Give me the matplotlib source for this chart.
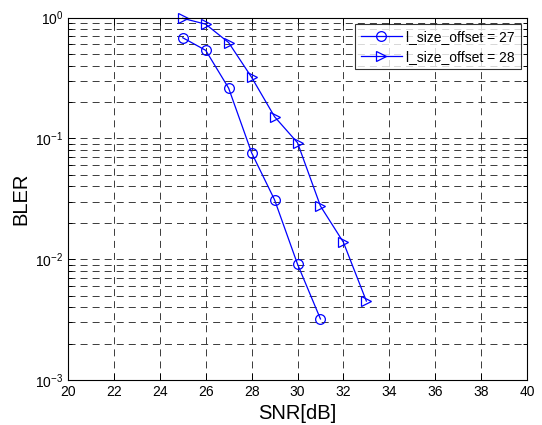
import matplotlib
matplotlib.use("Agg")
import matplotlib.pyplot as plt
from matplotlib.ticker import LogLocator, FixedLocator, NullFormatter

plt.rcParams['font.family'] = ['Liberation Sans', 'DejaVu Sans']
plt.rcParams['mathtext.fontset'] = 'custom'
plt.rcParams['mathtext.rm'] = 'Liberation Sans'

# BLER vs SNR for two size offsets
snr_27 = [25, 26, 27, 28, 29, 30, 31]
bler_27 = [0.68, 0.535, 0.26, 0.076, 0.031, 0.0091, 0.0032]
snr_28 = [25, 26, 27, 28, 29, 30, 31, 32, 33]
bler_28 = [0.985, 0.88, 0.62, 0.32, 0.151, 0.092, 0.0275, 0.0138, 0.0045]
labels = ['l_size_offset = 27', 'l_size_offset = 28']
x_ticks = list(range(20, 41, 2))

fig = plt.figure(figsize=(5.42, 4.25), dpi=100)
ax = fig.add_axes([0.1255, 0.1059, 0.8468, 0.8529])

ax.semilogy(snr_27, bler_27, color='#0000ff', lw=0.9, marker='o', ms=7,
            mfc='none', mec='#0000ff', mew=0.9, label=labels[0], clip_on=False)
ax.semilogy(snr_28, bler_28, color='#0000ff', lw=0.9, marker='>', ms=7.5,
            mfc='none', mec='#0000ff', mew=0.9, label=labels[1], clip_on=False)

ax.set_xlim(20, 40)
ax.set_ylim(1e-3, 1)
ax.xaxis.set_major_locator(FixedLocator(x_ticks))
ax.yaxis.set_major_locator(LogLocator(base=10, numticks=10))
ax.yaxis.set_minor_locator(LogLocator(base=10, subs=range(2, 10), numticks=20))
ax.yaxis.set_minor_formatter(NullFormatter())

grid_style = dict(color='#3a3a3a', linestyle=(0, (7.2, 5.2)), linewidth=0.7)
ax.grid(True, which='major', axis='both', **grid_style)
ax.grid(True, which='minor', axis='y', **grid_style)

ax.tick_params(which='both', direction='in', top=True, right=True,
               labelsize=10, width=0.7)
ax.tick_params(which='major', length=5)
ax.tick_params(which='minor', length=3)
for s in ax.spines.values():
    s.set_linewidth(0.8)

ax.set_xlabel('SNR[dB]', fontsize=14.5, labelpad=4)
ax.set_ylabel('BLER', fontsize=14.5, labelpad=3)

leg = ax.legend(loc='upper right', bbox_to_anchor=(0.986, 0.982), fontsize=10,
                frameon=True, fancybox=False, edgecolor='black',
                borderpad=0.4, handlelength=3.0, handletextpad=0.3,
                labelspacing=0.45, borderaxespad=0)
leg.get_frame().set_linewidth(0.8)

fig.savefig('out.png', dpi=100)
